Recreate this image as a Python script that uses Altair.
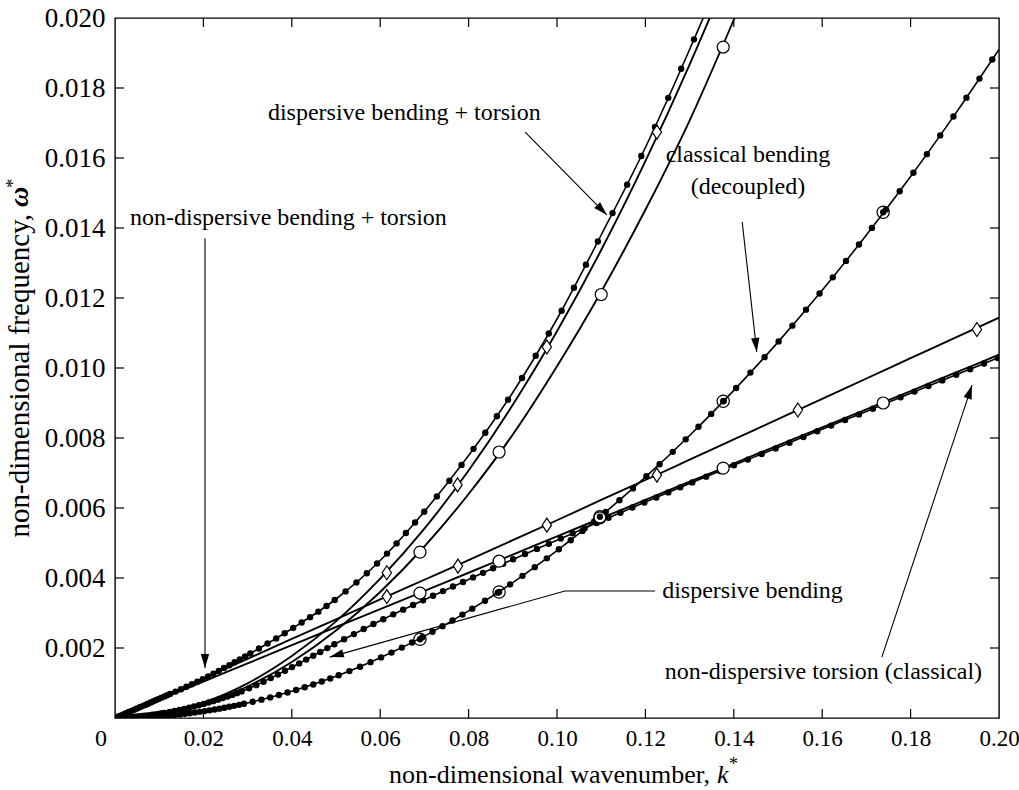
import math
import altair as alt
import pandas as pd

FONT = "Liberation Serif"
W, H = 884, 700
X_MAX, Y_MAX = 0.20, 0.020

# ---------------- data ----------------
k_grid = [0.00, 0.01, 0.02, 0.03, 0.04, 0.05, 0.06, 0.07, 0.08, 0.09, 0.10,
          0.11, 0.12, 0.13, 0.14, 0.15, 0.16, 0.17, 0.18, 0.19, 0.20]
w_classical_bending = [0.0, 0.000048, 0.000191, 0.00043, 0.000764, 0.00119, 0.00172,
                       0.00234, 0.00306, 0.00387, 0.00478, 0.00578, 0.00688, 0.00807,
                       0.00936, 0.01074, 0.01222, 0.0138, 0.01547, 0.01724, 0.0191]
w_dispersive_bending = [0.0, 0.00012, 0.0004, 0.00083, 0.00145, 0.00213, 0.00278,
                        0.00338, 0.00396, 0.00453, 0.00508, 0.00563, 0.00617, 0.0067,
                        0.00722, 0.00773, 0.00825, 0.00876, 0.00928, 0.00979, 0.0103]
w_torsion = [0.0, 0.00052, 0.00104, 0.00156, 0.00208, 0.0026, 0.00311, 0.00363,
             0.00415, 0.00467, 0.00519, 0.00571, 0.00623, 0.00675, 0.00727, 0.00779,
             0.0083, 0.00882, 0.00934, 0.00986, 0.01038]
w_nd_bt_lower = [0.0, 0.00056, 0.00113, 0.00169, 0.00226, 0.00282, 0.00339, 0.00395,
                 0.00451, 0.00508, 0.00565, 0.00623, 0.0068, 0.00738, 0.00796, 0.00854,
                 0.00912, 0.0097, 0.01028, 0.01086, 0.01144]

k_steep = [0.00, 0.01, 0.02, 0.03, 0.04, 0.05, 0.06, 0.07, 0.08, 0.09, 0.10,
           0.11, 0.12, 0.13, 0.14, 0.15]
w_disp_bt_upper = [0.0, 0.00055, 0.00112, 0.0018, 0.00255, 0.0034, 0.0045, 0.0059,
                   0.0075, 0.0093, 0.0114, 0.0138, 0.0163, 0.0191, 0.0221, 0.0254]
w_bt_diamond_upper = [0.0, 0.00011, 0.00044, 0.00099, 0.00177, 0.00276, 0.00398, 0.00541,
                      0.00707, 0.00895, 0.01105, 0.01337, 0.01591, 0.01867, 0.02166, 0.0249]
w_bt_circle_upper = [0.0, 0.0001, 0.0004, 0.0009, 0.0016, 0.0025, 0.0036, 0.0049,
                     0.0064, 0.0081, 0.01005, 0.01218, 0.01452, 0.01707, 0.01995, 0.023]

# markers
k_diamond_lower = [0.0615, 0.0776, 0.0977, 0.1226, 0.1545, 0.195]
w_diamond_lower = [0.00347, 0.00434, 0.00551, 0.00694, 0.0088, 0.0111]
k_diamond_upper = [0.0615, 0.0775, 0.0977, 0.1226]
w_diamond_upper = [0.00415, 0.00666, 0.0106, 0.01674]
k_circle_upper = [0.069, 0.0869, 0.11, 0.1376]
w_circle_upper = [0.00474, 0.0076, 0.0121, 0.01917]
k_circle_torsion = [0.069, 0.0869, 0.1097, 0.1376, 0.1738]
w_circle_torsion = [0.00357, 0.00448, 0.00572, 0.00714, 0.0090]
k_circle_classical = [0.069, 0.0869, 0.1097, 0.1376, 0.1738]
w_circle_classical = [0.00225, 0.0036, 0.00575, 0.00905, 0.01445]

x_label_values = [0.02, 0.04, 0.06, 0.08, 0.10, 0.12, 0.14, 0.16, 0.18, 0.20]
x_tick_values = [0.02, 0.04, 0.06, 0.08, 0.10, 0.12, 0.14, 0.16, 0.18]
y_label_values = [0.002, 0.004, 0.006, 0.008, 0.010, 0.012, 0.014, 0.016, 0.018, 0.020]
y_tick_values = [0.002, 0.004, 0.006, 0.008, 0.010, 0.012, 0.014, 0.016, 0.018]

labels = [
    {"text": "dispersive bending + torsion", "k": 0.0346, "w": 0.01729, "align": "left"},
    {"text": "non-dispersive bending + torsion", "k": 0.0034, "w": 0.01429, "align": "left"},
    {"text": "classical bending", "k": 0.1432, "w": 0.01609, "align": "center"},
    {"text": "(decoupled)", "k": 0.1432, "w": 0.01517, "align": "center"},
    {"text": "dispersive bending", "k": 0.1238, "w": 0.00363, "align": "left"},
    {"text": "non-dispersive torsion (classical)", "k": 0.1244, "w": 0.00131, "align": "left"},
]
arrows = [  # start -> tip
    (0.0928, 0.01674, 0.1113, 0.01437),
    (0.02036, 0.01371, 0.02036, 0.00143),
    (0.1419, 0.01417, 0.1452, 0.01046),
    (0.1018, 0.00363, 0.0486, 0.00174),
    (0.1735, 0.00174, 0.1939, 0.00951),
]
leader = [(0.1018, 0.00363, 0.1222, 0.00363)]

# ---------------- scales / axes ----------------
xs = alt.Scale(domain=[0, X_MAX], nice=False, zero=False)
ys = alt.Scale(domain=[0, Y_MAX], nice=False, zero=False)
xaxis = alt.Axis(values=x_label_values, format=".2f", ticks=False, domain=False, grid=False,
                 labelFont=FONT, labelFontSize=23, labelColor="black", labelPadding=9,
                 title=None, labelFlush=False, labelOverlap=False)
yaxis = alt.Axis(values=y_label_values, format=".3f", ticks=False, domain=False, grid=False,
                 labelFont=FONT, labelFontSize=27, labelColor="black", labelPadding=10,
                 title=None, labelFlush=False, labelOverlap=False)


def X(f):
    return alt.X(f, type="quantitative", scale=xs, axis=xaxis)


def Y(f):
    return alt.Y(f, type="quantitative", scale=ys, axis=yaxis)


def dots(plan):
    arr = []
    for length, gap in plan:
        n = max(1, round(length / gap))
        arr += [0, gap] * n
    return arr


def df(ks, ws):
    return pd.DataFrame({"k": ks, "w": ws})


layers = []


def solid(ks, ws, width=1.9):
    layers.append(alt.Chart(df(ks, ws)).mark_line(
        color="black", strokeWidth=width, interpolate="monotone", clip=True
    ).encode(x=X("k"), y=Y("w"), order="k:Q"))


def dotted(ks, ws, plan):
    solid(ks, ws, 1.6)
    layers.append(alt.Chart(df(ks, ws)).mark_line(
        color="black", strokeWidth=6.4, interpolate="monotone", clip=True,
        strokeDash=dots(plan), strokeCap="round"
    ).encode(x=X("k"), y=Y("w"), order="k:Q"))


# curves
solid(k_grid, w_nd_bt_lower)
solid(k_grid, w_torsion)
solid(k_steep, w_bt_diamond_upper)
solid(k_steep, w_bt_circle_upper)
dotted(k_grid, w_dispersive_bending,
       [(50, 2.5), (80, 5), (106, 8), (195, 11), (190, 13), (420, 15)])
dotted(k_grid, w_classical_bending,
       [(50, 2.5), (80, 5), (100, 9), (150, 11.5), (160, 15), (184, 18), (206, 21), (320, 23)])
dotted(k_steep, w_disp_bt_upper,
       [(60, 3), (90, 6), (100, 10), (126, 14), (149, 20), (181, 26), (320, 32)])

# markers
DIAMOND = "M0,-1.2L0.8,0L0,1.2L-0.8,0Z"


def marker(ks, ws, shape, size, fill="white"):
    layers.append(alt.Chart(df(ks, ws)).mark_point(
        shape=shape, size=size, filled=True, fill=fill, stroke="black",
        strokeWidth=1.2, opacity=1
    ).encode(x=X("k"), y=Y("w")))


marker(k_diamond_lower, w_diamond_lower, DIAMOND, 135)
marker(k_diamond_upper, w_diamond_upper, DIAMOND, 135)
marker(k_circle_upper, w_circle_upper, "circle", 144)
marker(k_circle_torsion, w_circle_torsion, "circle", 144)
layers.append(alt.Chart(df(k_circle_classical, w_circle_classical)).mark_point(
    shape="circle", size=150, filled=False, stroke="black", strokeWidth=1.2, opacity=1
).encode(x=X("k"), y=Y("w")))
layers.append(alt.Chart(df(k_circle_classical, w_circle_classical)).mark_point(
    shape="circle", size=40, filled=True, color="black", opacity=1
).encode(x=X("k"), y=Y("w")))

# frame ticks (inward)
tx = pd.DataFrame({"v": x_tick_values})
ty = pd.DataFrame({"v": y_tick_values})
TL = 9
layers.append(alt.Chart(tx).mark_rule(color="black", strokeWidth=1.2).encode(
    x=X("v"), y=alt.value(H), y2=alt.value(H - TL)))
layers.append(alt.Chart(tx).mark_rule(color="black", strokeWidth=1.2).encode(
    x=X("v"), y=alt.value(0), y2=alt.value(TL)))
layers.append(alt.Chart(ty).mark_rule(color="black", strokeWidth=1.2).encode(
    y=Y("v"), x=alt.value(0), x2=alt.value(TL)))
layers.append(alt.Chart(ty).mark_rule(color="black", strokeWidth=1.2).encode(
    y=Y("v"), x=alt.value(W), x2=alt.value(W - TL)))

# annotations
ldf = pd.DataFrame(labels)
for al in ["left", "center"]:
    layers.append(alt.Chart(ldf[ldf["align"] == al]).mark_text(
        align=al, baseline="middle", font=FONT, fontSize=24, color="black"
    ).encode(x=X("k"), y=Y("w"), text="text:N"))

adf = pd.DataFrame(arrows + leader, columns=["k0", "w0", "k1", "w1"])
layers.append(alt.Chart(adf).mark_rule(color="black", strokeWidth=1.1).encode(
    x=X("k0"), y=Y("w0"), x2="k1:Q", y2="w1:Q"))


def head_angle(k0, w0, k1, w1):
    dx = (k1 - k0) / X_MAX * W
    dy = -(w1 - w0) / Y_MAX * H
    return math.degrees(math.atan2(dx, -dy)) % 360


hdf = pd.DataFrame([{"k": a[2], "w": a[3], "ang": head_angle(*a)} for a in arrows])
ARROW = "M0,0L-0.3,1L0.3,1Z"
layers.append(alt.Chart(hdf).mark_point(
    shape=ARROW, size=784, filled=True, color="black", opacity=1
).encode(x=X("k"), y=Y("w"), angle=alt.Angle("ang:Q", scale=None)))

# corner zero label
layers.append(alt.Chart(pd.DataFrame({"t": ["0"]})).mark_text(
    font=FONT, fontSize=24, color="black", align="center", baseline="middle"
).encode(x=alt.value(-14), y=alt.value(H + 21), text="t:N"))

# axis titles (composed so k and omega can be italic with superscript star)
layers.append(alt.Chart(pd.DataFrame({"t": ["non-dimensional wavenumber,"]})).mark_text(
    font=FONT, fontSize=26, color="black", align="right", baseline="middle"
).encode(x=alt.value(595), y=alt.value(757), text="t:N"))
layers.append(alt.Chart(pd.DataFrame({"t": ["k"]})).mark_text(
    font=FONT, fontSize=26, fontStyle="italic", color="black", align="left", baseline="middle"
).encode(x=alt.value(602), y=alt.value(757), text="t:N"))
layers.append(alt.Chart(pd.DataFrame({"t": ["*"]})).mark_text(
    font=FONT, fontSize=18, color="black", align="left", baseline="middle"
).encode(x=alt.value(614), y=alt.value(747), text="t:N"))

layers.append(alt.Chart(pd.DataFrame({"t": ["non-dimensional frequency,"]})).mark_text(
    font=FONT, fontSize=29, color="black", align="right", baseline="middle", angle=270
).encode(x=alt.value(-95), y=alt.value(196), text="t:N"))
layers.append(alt.Chart(pd.DataFrame({"t": ["ω"]})).mark_text(
    font=FONT, fontSize=28, fontStyle="italic", fontWeight="bold", color="black",
    align="left", baseline="middle", angle=270
).encode(x=alt.value(-95), y=alt.value(189), text="t:N"))
layers.append(alt.Chart(pd.DataFrame({"t": ["*"]})).mark_text(
    font=FONT, fontSize=19, color="black", align="left", baseline="middle", angle=270
).encode(x=alt.value(-102), y=alt.value(170), text="t:N"))

chart = alt.layer(*layers).properties(
    width=W, height=H,
    padding={"left": 115, "top": 18, "right": 20, "bottom": 72},
    autosize=alt.AutoSizeParams(type="none"),
    background="white",
).configure_view(stroke="black", strokeWidth=1.4)

chart.save("out.html", embed_options={"renderer": "svg", "actions": False})
